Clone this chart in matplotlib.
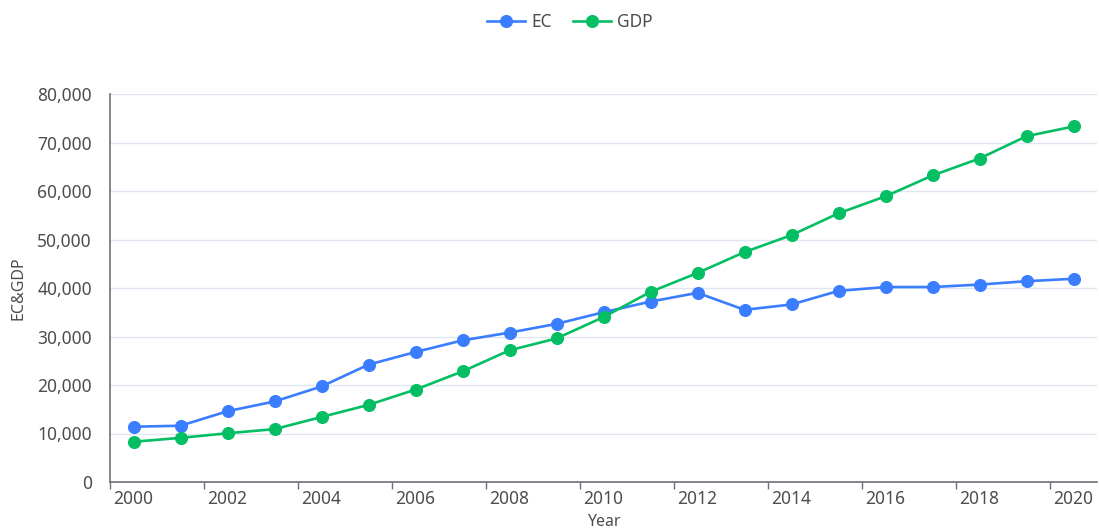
import matplotlib
matplotlib.use("Agg")
import matplotlib.pyplot as plt
from matplotlib.ticker import FuncFormatter, FixedLocator
import numpy as np

years = list(range(2000, 2021))
ec = [11400, 11600, 14600, 16600, 19700, 24200, 26800, 29200, 30800, 32600,
      35000, 37200, 39000, 35500, 36600, 39400, 40200, 40200, 40700, 41400, 41900]
gdp = [8300, 9100, 10050, 10900, 13400, 15900, 19050, 22800, 27150, 29600,
       34000, 39200, 43100, 47400, 50900, 55400, 58900, 63200, 66700, 71300, 73300]
y_ticks = [0, 10000, 20000, 30000, 40000, 50000, 60000, 70000, 80000]

TEXT = "#4D4D4D"
AXIS = "#6E7079"
GRID = "#E0E6F1"
BLUE = "#3A7DFF"
GREEN = "#03BE62"
FONT = ["Noto Sans", "DejaVu Sans"]
plt.rcParams["font.family"] = FONT

W, H = 1099, 531
fig = plt.figure(figsize=(W / 100, H / 100), dpi=100)
left, right, top, bottom = 110, 1097, 94, 482
ax = fig.add_axes([left / W, 1 - bottom / H, (right - left) / W, (bottom - top) / H])

x = np.arange(len(years))
ax.plot(x, ec, color=BLUE, lw=1.9, marker="o", ms=8.4, label="EC", zorder=3, clip_on=False)
ax.plot(x, gdp, color=GREEN, lw=1.9, marker="o", ms=8.4, label="GDP", zorder=3, clip_on=False)

ax.set_xlim(-0.5, len(years) - 0.5)
ax.set_ylim(0, 80000)

# category boundaries carry the tick marks, labels sit at category centres
ax.xaxis.set_major_locator(FixedLocator(np.arange(-0.5, len(years) - 1, 2)))
ax.xaxis.set_major_formatter(FuncFormatter(lambda v, p: ""))
ax.xaxis.set_minor_locator(FixedLocator(x[::2]))
ax.set_xticklabels([str(y) for y in years[::2]], minor=True)
ax.tick_params(axis="x", which="major", length=5, width=1, color=AXIS, direction="out")
ax.tick_params(axis="x", which="minor", length=0, pad=6, labelsize=12.5, labelcolor=TEXT)

ax.set_yticks(y_ticks)
ax.yaxis.set_major_formatter(FuncFormatter(lambda v, p: f"{int(v):,}"))
ax.tick_params(axis="y", length=0, pad=13, labelsize=12.5, labelcolor=TEXT)

ax.grid(axis="y", color=GRID, lw=1)
ax.set_axisbelow(True)
for s in ("top", "right"):
    ax.spines[s].set_visible(False)
for s in ("left", "bottom"):
    ax.spines[s].set_color(AXIS)
    ax.spines[s].set_linewidth(1.2)

fig.text(18 / W, 1 - 288 / H, "EC&GDP", rotation=90, ha="center", va="center",
         color=TEXT, fontsize=11.5)
fig.text(604 / W, 1 - 522 / H, "Year", ha="center", va="center", color=TEXT, fontsize=11.5)

fig.legend(loc="center", bbox_to_anchor=(570 / W, 1 - 22 / H), ncol=2, frameon=False,
           handlelength=2.2, handletextpad=0.35, columnspacing=1.2,
           prop={"size": 12.5, "family": FONT}, labelcolor=TEXT)

fig.savefig("out.png", dpi=100)
